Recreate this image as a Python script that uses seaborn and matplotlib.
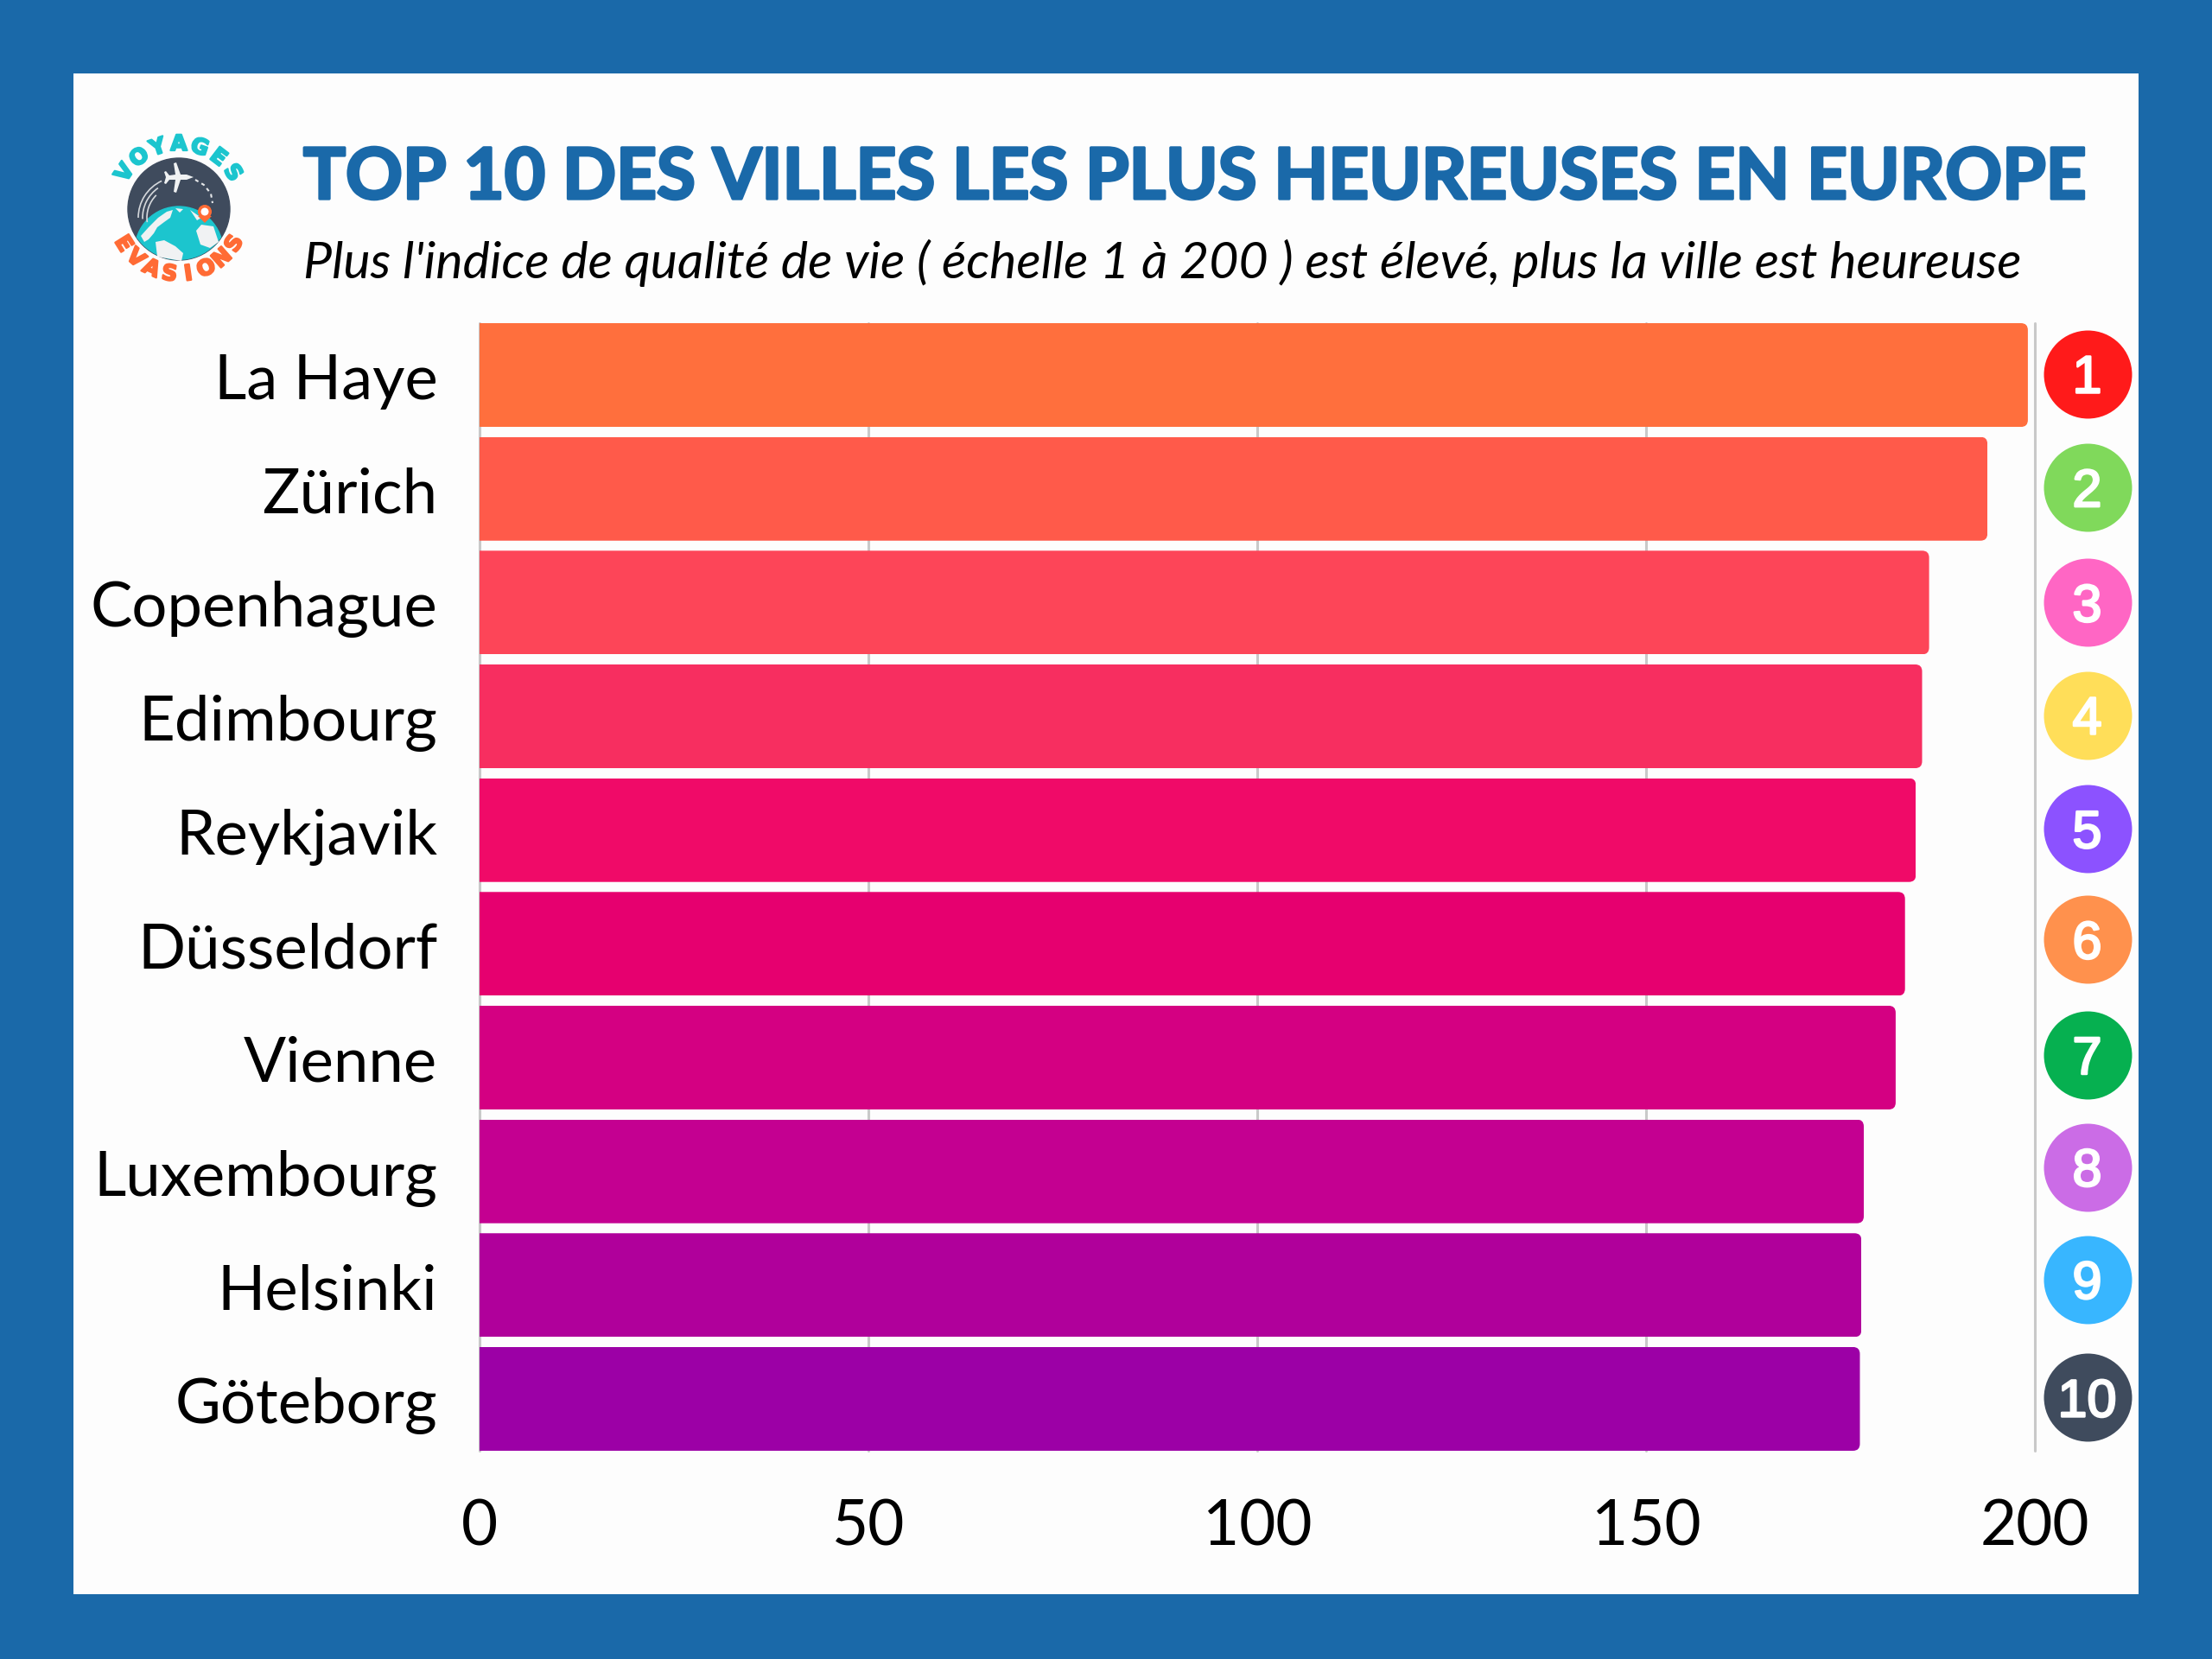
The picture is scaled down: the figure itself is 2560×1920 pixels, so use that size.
import numpy as np
import pandas as pd
import matplotlib
matplotlib.use("Agg")
import matplotlib.pyplot as plt
import matplotlib.patheffects as pe
import seaborn as sns
from matplotlib.patches import Circle, FancyBboxPatch, Polygon, Arc, Rectangle
from matplotlib.transforms import IdentityTransform, ScaledTranslation, blended_transform_factory

# data
cities = ["La Haye", "Zürich", "Copenhague", "Edimbourg", "Reykjavik",
          "Düsseldorf", "Vienne", "Luxembourg", "Helsinki", "Göteborg"]
scores = [199.1, 193.9, 186.4, 185.5, 184.7, 183.3, 182.1, 178.0, 177.7, 177.5]
bar_colors = ["#FF6F3D", "#FF5A4A", "#FD4558", "#F72E60", "#F00A68",
              "#E6006F", "#D40082", "#C40091", "#B0009B", "#9C00A6"]
ranks = ["1", "2", "3", "4", "5", "6", "7", "8", "9", "10"]
rank_colors = ["#FF1A1A", "#80D95B", "#FF66C4", "#FFDE59", "#8C52FF",
               "#FF914D", "#06B050", "#CB6CE6", "#38B6FF", "#3F4B5D"]
x_ticks = [0, 50, 100, 150, 200]

title = "TOP 10 DES VILLES LES PLUS HEUREUSES EN EUROPE"
subtitle = "Plus l'indice de qualité de vie ( échelle 1 à 200 ) est élevé, plus la ville est heureuse"

BLUE = "#1A69A9"
PAPER = "#FDFDFD"
TEAL = "#1CC5CE"
ORANGE = "#FF6B35"
SLATE = "#3F4B5D"
LAND = "#F0F2F3"


def draw_arc_text(ax, word, center, radius, start, end, color, size, top=True):
    """Puts a word letter by letter along a circle (angles in degrees)."""
    angles = np.linspace(start, end, len(word))
    for letter, ang in zip(word, angles):
        rad = np.deg2rad(ang)
        x = center[0] + radius * np.cos(rad)
        y = center[1] - radius * np.sin(rad)
        rot = ang - 90 if top else ang + 90
        ax.text(x, y, letter, color=color, fontsize=size, fontfamily="DejaVu Sans",
                fontweight="bold", ha="center", va="center", rotation=rot,
                rotation_mode="anchor",
                path_effects=[pe.withStroke(linewidth=1.6, foreground=color)])


def draw_logo(ax):
    """Small travel logo, drawn with plain shapes in pixel coordinates."""
    c = (207, 242)
    disc = Circle(c, 59, color=SLATE, zorder=2)
    ax.add_patch(disc)

    globe = Circle((207, 290), 51, color=TEAL, zorder=3)
    ax.add_patch(globe)
    globe.set_clip_path(disc)
    lands = [
        [(163, 273), (172, 263), (183, 252), (193, 245), (200, 243), (197, 252),
         (190, 257), (182, 263), (178, 270), (172, 277), (167, 280)],
        [(180, 280), (190, 278), (203, 285), (212, 293), (210, 302), (182, 297)],
        [(227, 267), (233, 260), (247, 262), (253, 280), (243, 287), (232, 283)],
        [(203, 241), (212, 242), (208, 246)],
        [(220, 243), (233, 252), (228, 255)],
    ]
    for pts in lands:
        land = Polygon(pts, closed=True, color=LAND, lw=0, zorder=4)
        ax.add_patch(land)
        land.set_clip_path(globe)

    # plane
    plane = [(224, 205), (216, 202), (209, 202), (204, 188), (201, 189), (203, 202),
             (196, 203), (192, 198), (190, 199), (192, 205), (190, 212), (192, 213),
             (196, 208), (203, 208), (201, 222), (204, 223), (209, 208), (216, 208)]
    ax.add_patch(Polygon(plane, closed=True, color=LAND, lw=0, zorder=5))

    # flight trail and dashed path (y axis is inverted here)
    for r, a0, a1 in [(47, 180, 245), (42, 178, 235), (37, 172, 225)]:
        ax.add_patch(Arc((207, 252), 2 * r, 2 * r, theta1=a0, theta2=a1,
                         color="#D5D8DC", lw=1.2, zorder=5))
    ax.plot([226, 236, 244, 246], [208, 214, 224, 235], color="#E6E8EA",
            lw=1.5, ls=(0, (2, 2)), zorder=5)

    # pin
    ax.add_patch(Polygon([(229, 250), (245, 250), (237, 258)], closed=True,
                         color=ORANGE, lw=0, zorder=6))
    ax.add_patch(Circle((237, 245), 8, color=ORANGE, lw=0, zorder=6))
    ax.add_patch(Circle((237, 245), 4.5, color="white", lw=0, zorder=7))

    draw_arc_text(ax, "VOYAGES", c, 75, 146, 34, TEAL, 18, top=True)
    draw_arc_text(ax, "EVASIONS", c, 76, 212, 328, ORANGE, 18, top=False)


def round_bar_ends(ax, bars, radius=8):
    """Rounds the right corners of the seaborn bars with a pixel clip box."""
    fig = ax.figure
    fig.canvas.draw()
    for bar in bars:
        box = bar.get_window_extent()
        clip = FancyBboxPatch((box.x0 - 30, box.y0), box.width + 30, box.height,
                              boxstyle=f"round,pad=0,rounding_size={radius}",
                              transform=IdentityTransform())
        bar.set_clip_path(clip)


def main():
    sns.set_theme(style="whitegrid")
    plt.rcParams["font.family"] = ["Lato", "DejaVu Sans"]

    fig = plt.figure(figsize=(25.6, 19.2), dpi=100, facecolor=BLUE)

    # backdrop in pixel coordinates: white card, logo, headings
    bg = fig.add_axes([0, 0, 1, 1], zorder=0)
    bg.set_xlim(0, 2560)
    bg.set_ylim(1920, 0)
    bg.axis("off")
    bg.add_patch(Rectangle((85, 85), 2390, 1760, color=PAPER, lw=0))
    draw_logo(bg)
    bg.text(351, 230, title, color=BLUE, fontsize=58.8, fontweight="bold", ha="left", va="baseline",
            path_effects=[pe.withStroke(linewidth=2.4, foreground=BLUE)])
    bg.text(351, 322.5, subtitle, color="black", fontsize=42.5, style="italic", ha="left", va="baseline")

    # chart
    ax = fig.add_axes([555 / 2560, 1 - 1679 / 1920, 1800 / 2560, 1305 / 1920], zorder=1)
    ax.patch.set_alpha(0)
    df = pd.DataFrame({"city": cities, "score": scores})
    sns.barplot(data=df, x="score", y="city", hue="city", palette=bar_colors,
                legend=False, width=0.912, saturation=1, linewidth=0, ax=ax, zorder=2)
    ax.set_xlim(0, 200)
    ax.set_ylim(9.456, -0.456)
    ax.set_xticks(x_ticks)
    ax.set_xlabel("")
    ax.set_ylabel("")
    ax.grid(False)
    ax.xaxis.grid(True, color="#C9C9C9", lw=2.2, zorder=1, clip_on=False)
    ax.set_axisbelow(True)
    for side in ax.spines.values():
        side.set_visible(False)
    ax.tick_params(axis="x", labelsize=52.5, labelcolor="black", length=0, pad=40)
    ax.tick_params(axis="y", labelsize=52.2, labelcolor="black", length=0, pad=35)
    # city names sit a touch lower than the bar centres
    shift = ScaledTranslation(0, -1.5 / 100, fig.dpi_scale_trans)
    for label in ax.get_yticklabels():
        label.set_transform(label.get_transform() + shift)
    round_bar_ends(ax, ax.patches)

    # rank badges right of the 200 line, slightly uneven as in the original
    badge_nudge = [-1.5, -1.5, 0, -1.5, -1.5, -5, -3, -5, -6.5, -1.5]
    trans = blended_transform_factory(ax.transAxes, ax.transData)
    badge_x = (2415.5 - 555) / 1800
    for i, (rank, color) in enumerate(zip(ranks, rank_colors)):
        y = i + badge_nudge[i] / 131.66
        ax.scatter([badge_x], [y], s=5390, color=color, transform=trans,
                   clip_on=False, linewidths=0, zorder=5)
        ax.text(badge_x, y, rank, color="white", fontsize=44,
                fontfamily="Liberation Sans", ha="center", va="center_baseline",
                transform=trans, zorder=6,
                path_effects=[pe.withStroke(linewidth=1.8, foreground="white")])

    plt.savefig("out.png", dpi=100, facecolor=BLUE)
    plt.close()


if __name__ == "__main__":
    main()
